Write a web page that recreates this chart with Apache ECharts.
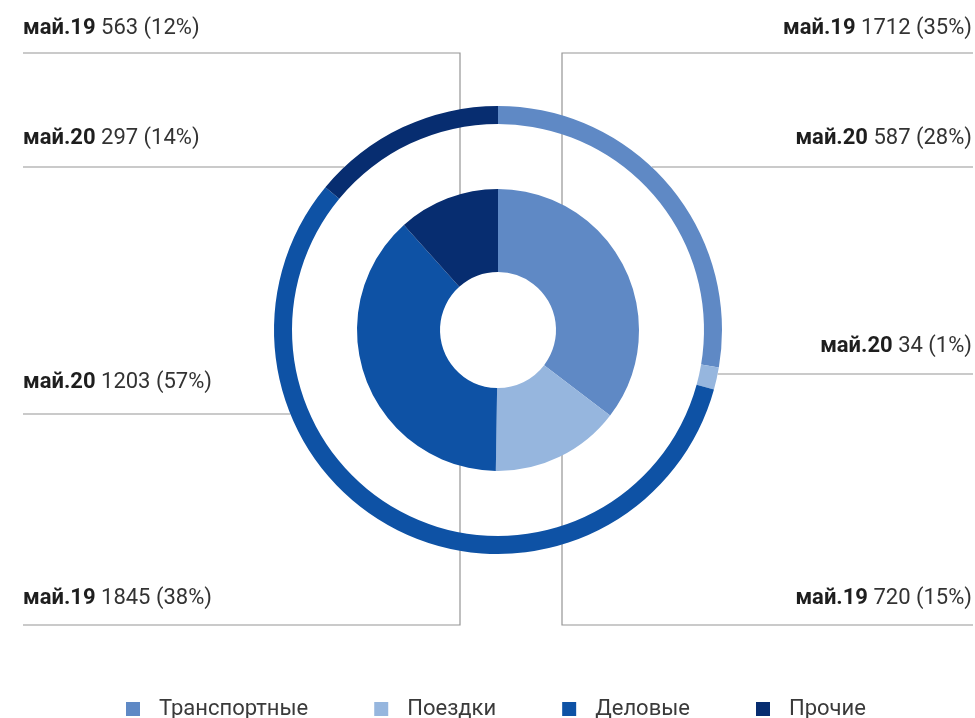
<!DOCTYPE html>
<html>
<head>
<meta charset="utf-8">
<script src="https://cdn.jsdelivr.net/npm/echarts@6/dist/echarts.min.js"></script>
<style>
  html, body { margin: 0; padding: 0; background: #fff; }
  #chart { width: 975px; height: 718px; }
</style>
</head>
<body>
<div id="chart"></div>
<script>
// data
var categories = ['Транспортные', 'Поездки', 'Деловые', 'Прочие']
var colors = ['#5f89c5', '#96b6de', '#0e52a5', '#072d70']
var may19 = [1712, 720, 1845, 563]
var may20 = [587, 34, 1203, 297]
var seriesNames = ['май.19', 'май.20']

// geometry (px)
var CX = 498
var CY = 330
var LEFT_X = 23
var RIGHT_X = 973

// label spots, same order as categories
// inner pie: vertical leader from inside the slice, then horizontal to the edge
var innerSpots = [
  { side: 'right', textY: 28, lineY: 53, vx: 562, startY: 237 },
  { side: 'right', textY: 598, lineY: 625, vx: 562, startY: 438 },
  { side: 'left', textY: 598, lineY: 625, vx: 460, startY: 443 },
  { side: 'left', textY: 28, lineY: 53, vx: 460, startY: 237 }
]
// outer ring: horizontal leader from the ring edge
var outerSpots = [
  { side: 'right', textY: 138, lineY: 167 },
  { side: 'right', textY: 346, lineY: 374 },
  { side: 'left', textY: 382, lineY: 414 },
  { side: 'left', textY: 138, lineY: 167 }
]
var OUTER_R = 224

function makeData(values) {
  return values.map(function (v, i) {
    return { name: categories[i], value: v, itemStyle: { color: colors[i] } }
  })
}

function labelFormatter(params) {
  return '{b|' + params.seriesName + '}{v| ' + params.value + ' (' + params.percent + '%)}'
}

function layoutLabel(params) {
  var isInner = params.seriesIndex === 0
  var spot = isInner ? innerSpots[params.dataIndex] : outerSpots[params.dataIndex]
  var edgeX = spot.side === 'left' ? LEFT_X : RIGHT_X
  var points
  if (isInner) {
    points = [[spot.vx, spot.startY], [spot.vx, spot.lineY], [edgeX, spot.lineY]]
  } else {
    var dy = spot.lineY - CY
    var dx = Math.sqrt(OUTER_R * OUTER_R - dy * dy)
    var sx = spot.side === 'left' ? CX - dx : CX + dx
    points = [[sx, spot.lineY], [sx, spot.lineY], [edgeX, spot.lineY]]
  }
  return {
    x: spot.side === 'left' ? LEFT_X : RIGHT_X - 1,
    y: spot.textY,
    align: spot.side,
    verticalAlign: 'middle',
    labelLinePoints: points
  }
}

var labelStyle = {
  show: true,
  position: 'outside',
  formatter: labelFormatter,
  rich: {
    b: { fontFamily: 'Roboto', fontSize: 22, fontWeight: 'bold', color: '#1e1e1e' },
    v: { fontFamily: 'Roboto', fontSize: 22, color: '#333333' }
  }
}
var lineStyle = {
  show: true,
  length: 10,
  length2: 10,
  lineStyle: { color: '#959595', width: 1.2 }
}

var option = {
  backgroundColor: '#ffffff',
  animation: false,
  legend: {
    data: categories,
    left: 121,
    top: 693,
    icon: 'rect',
    itemWidth: 14,
    itemHeight: 14,
    itemGap: 66,
    textStyle: {
      fontFamily: 'Roboto',
      fontSize: 22,
      color: '#3a3a3a',
      padding: [0, 0, 0, 14]
    }
  },
  series: [
    {
      name: seriesNames[0],
      type: 'pie',
      center: [CX, CY],
      radius: [58, 141],
      startAngle: 90,
      percentPrecision: 0,
      avoidLabelOverlap: false,
      emphasis: { disabled: true },
      label: labelStyle,
      labelLine: lineStyle,
      labelLayout: layoutLabel,
      data: makeData(may19)
    },
    {
      name: seriesNames[1],
      type: 'pie',
      center: [CX, CY],
      radius: [206, OUTER_R],
      startAngle: 90,
      percentPrecision: 0,
      avoidLabelOverlap: false,
      emphasis: { disabled: true },
      label: labelStyle,
      labelLine: lineStyle,
      labelLayout: layoutLabel,
      data: makeData(may20)
    }
  ]
}

var myChart = echarts.init(document.getElementById('chart'))
myChart.setOption(option)
</script>
</body>
</html>
